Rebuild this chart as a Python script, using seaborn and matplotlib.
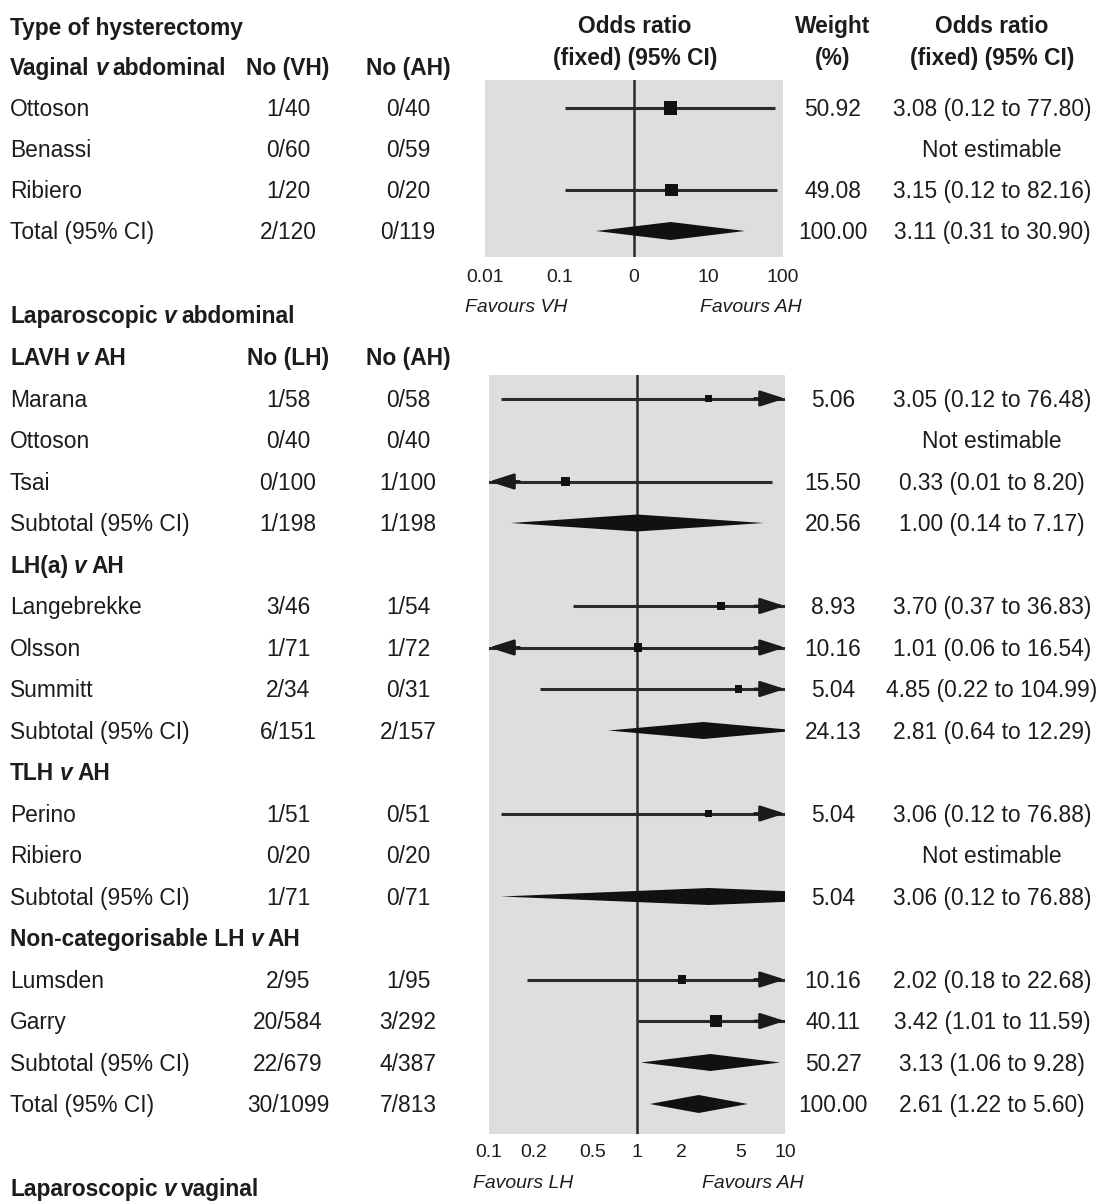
import numpy as np
import pandas as pd
import matplotlib
matplotlib.use("Agg")
import matplotlib.pyplot as plt
import seaborn as sns
from matplotlib import font_manager

# ---------------------------------------------------------------- data
# Vaginal v abdominal hysterectomy
vh_studies = ["Ottoson", "Benassi", "Ribiero", "Total (95% CI)"]
vh_kind = ["study", "study", "study", "total"]
vh_exp = ["1/40", "0/60", "1/20", "2/120"]
vh_ctrl = ["0/40", "0/59", "0/20", "0/119"]
vh_or = [3.08, np.nan, 3.15, 3.11]
vh_lo = [0.12, np.nan, 0.12, 0.31]
vh_hi = [77.80, np.nan, 82.16, 30.90]
vh_weight = [50.92, np.nan, 49.08, 100.00]
vh_ticks = [0.01, 0.1, 1, 10, 100]
vh_ticklabels = ["0.01", "0.1", "0", "10", "100"]

# Laparoscopic v abdominal hysterectomy
lh_studies = ["LAVH v AH", "Marana", "Ottoson", "Tsai", "Subtotal (95% CI)",
              "LH(a) v AH", "Langebrekke", "Olsson", "Summitt", "Subtotal (95% CI)",
              "TLH v AH", "Perino", "Ribiero", "Subtotal (95% CI)",
              "Non-categorisable LH v AH", "Lumsden", "Garry", "Subtotal (95% CI)",
              "Total (95% CI)"]
lh_kind = ["header", "study", "study", "study", "subtotal",
           "header", "study", "study", "study", "subtotal",
           "header", "study", "study", "subtotal",
           "header", "study", "study", "subtotal",
           "total"]
lh_exp = ["", "1/58", "0/40", "0/100", "1/198",
          "", "3/46", "1/71", "2/34", "6/151",
          "", "1/51", "0/20", "1/71",
          "", "2/95", "20/584", "22/679",
          "30/1099"]
lh_ctrl = ["", "0/58", "0/40", "1/100", "1/198",
           "", "1/54", "1/72", "0/31", "2/157",
           "", "0/51", "0/20", "0/71",
           "", "1/95", "3/292", "4/387",
           "7/813"]
lh_or = [np.nan, 3.05, np.nan, 0.33, 1.00,
         np.nan, 3.70, 1.01, 4.85, 2.81,
         np.nan, 3.06, np.nan, 3.06,
         np.nan, 2.02, 3.42, 3.13,
         2.61]
lh_lo = [np.nan, 0.12, np.nan, 0.01, 0.14,
         np.nan, 0.37, 0.06, 0.22, 0.64,
         np.nan, 0.12, np.nan, 0.12,
         np.nan, 0.18, 1.01, 1.06,
         1.22]
lh_hi = [np.nan, 76.48, np.nan, 8.20, 7.17,
         np.nan, 36.83, 16.54, 104.99, 12.29,
         np.nan, 76.88, np.nan, 76.88,
         np.nan, 22.68, 11.59, 9.28,
         5.60]
lh_weight = [np.nan, 5.06, np.nan, 15.50, 20.56,
             np.nan, 8.93, 10.16, 5.04, 24.13,
             np.nan, 5.04, np.nan, 5.04,
             np.nan, 10.16, 40.11, 50.27,
             100.00]
lh_ticks = [0.1, 0.2, 0.5, 1, 2, 5, 10]
lh_ticklabels = ["0.1", "0.2", "0.5", "1", "2", "5", "10"]

# ---------------------------------------------------------------- style
sns.set_theme(style="white")
names = {f.name for f in font_manager.fontManager.ttflist}
if "Liberation Sans Narrow" in names:
    plt.rcParams["font.family"] = ["Liberation Sans Narrow", "DejaVu Sans"]
    SCALE = 1.0
else:
    plt.rcParams["font.family"] = ["Liberation Sans", "DejaVu Sans"]
    SCALE = 0.82

W, H = 1097, 1201
INK = "#1c1c1c"
PANEL = "#dedede"
BODY = 20 * SCALE
SMALL = 17 * SCALE

fig = plt.figure(figsize=(W / 100, H / 100), dpi=100)
fig.patch.set_facecolor("white")
lay = fig.add_axes([0, 0, 1, 1])
lay.set_xlim(0, W)
lay.set_ylim(H, 0)
lay.axis("off")
renderer = fig.canvas.get_renderer()

COL_NAME, COL_EXP, COL_CTRL, COL_W, COL_OR = 10, 288, 408, 833, 992


def put(x, y, s, ha="left", size=BODY, weight="normal", style="normal", color=INK):
    em = size * 100 / 72
    return lay.text(x, y + 0.36 * em, s, ha=ha, va="baseline", fontsize=size,
                    fontweight=weight, fontstyle=style, color=color)


def bold_v(x, y, s, size=BODY):
    """Bold heading with the 'v' (versus) set in italics."""
    left, right = s.split(" v ")
    gap = 0.26 * size * 100 / 72
    t = put(x, y, left, weight="bold", size=size)
    x += t.get_window_extent(renderer).width + gap
    t = put(x, y, "v", weight="bold", style="italic", size=size)
    x += t.get_window_extent(renderer).width + gap * 0.8
    put(x, y, right, weight="bold", size=size)


def px_axes(x0, y0, x1, y1):
    return fig.add_axes([x0 / W, 1 - y1 / H, (x1 - x0) / W, (y1 - y0) / H])


def forest(ax, df, xlim, ylim, ticks, ticklabels, pad):
    ax.set_facecolor(PANEL)
    ax.set_xscale("log")
    for sp in ax.spines.values():
        sp.set_visible(False)
    ax.axvline(1, color="#2a2a2a", lw=1.8, zorder=2)

    studies = df[(df.kind == "study") & df.odds.notna()]
    ax.hlines(studies.y, studies.lo, studies.hi, color="#2a2a2a", lw=2.2, zorder=3)
    for _, r in studies.iterrows():
        for edge, off in ((xlim[1], -22), (xlim[0], 22)):
            beyond = r.hi > edge if off < 0 else r.lo < edge
            if beyond:
                ax.annotate("", xy=(edge, r.y), xytext=(off, 0), textcoords="offset points",
                            annotation_clip=False,
                            arrowprops=dict(arrowstyle="-|>,head_length=0.75,head_width=0.24",
                                            mutation_scale=20, color="#1a1a1a", lw=2.0,
                                            shrinkA=0, shrinkB=0), zorder=4)
    sns.scatterplot(data=studies, x="odds", y="y", size="weight", sizes=(20, 156),
                    size_norm=(0, 100), marker="s", color="#111111", edgecolor="none",
                    linewidth=0, legend=False, ax=ax, zorder=5)

    pooled = df[df.kind.isin(["subtotal", "total"]) & df.odds.notna()]
    for _, r in pooled.iterrows():
        h = 9 if r.kind == "total" else 8.5
        ax.fill([r.lo, r.odds, r.hi, r.odds], [r.y, r.y - h, r.y, r.y + h],
                color="#111111", lw=0, zorder=4)

    ax.set_xlim(*xlim)
    ax.set_ylim(*ylim)
    ax.set_xticks(ticks)
    ax.set_xticklabels(ticklabels)
    ax.minorticks_off()
    ax.set_yticks([])
    ax.tick_params(axis="x", length=0, pad=pad, labelsize=SMALL, colors=INK)
    ax.set_xlabel("")
    ax.set_ylabel("")


def table(df):
    for _, r in df.iterrows():
        if r.kind == "header":
            bold_v(COL_NAME, r.y, r.name_)
            continue
        put(COL_NAME, r.y, r.name_)
        put(COL_EXP, r.y, r.exp, ha="center")
        put(COL_CTRL, r.y, r.ctrl, ha="center")
        if np.isnan(r.odds):
            put(COL_OR, r.y, "Not estimable", ha="center")
        else:
            put(COL_W, r.y, f"{r.weight:.2f}", ha="center")
            put(COL_OR, r.y, f"{r.odds:.2f} ({r.lo:.2f} to {r.hi:.2f})", ha="center")


# ---------------------------------------------------------------- top block
put(COL_NAME, 27, "Type of hysterectomy", weight="bold")
bold_v(COL_NAME, 67, "Vaginal v abdominal")
put(COL_EXP, 67, "No (VH)", ha="center", weight="bold")
put(COL_CTRL, 67, "No (AH)", ha="center", weight="bold")
for xc in (635, COL_OR):
    put(xc, 25, "Odds ratio", ha="center", weight="bold")
    put(xc, 57, "(fixed) (95% CI)", ha="center", weight="bold")
put(COL_W, 25, "Weight", ha="center", weight="bold")
put(COL_W, 57, "(%)", ha="center", weight="bold")

vh = pd.DataFrame({"name_": vh_studies, "kind": vh_kind, "exp": vh_exp, "ctrl": vh_ctrl,
                   "odds": vh_or, "lo": vh_lo, "hi": vh_hi, "weight": vh_weight})
vh["y"] = 108 + 41 * np.arange(len(vh))
table(vh)
ax1 = px_axes(485, 80, 783, 257)
forest(ax1, vh, (0.01, 100), (257, 80), vh_ticks, vh_ticklabels, pad=8.5)
put(465, 305, "Favours VH", size=SMALL, style="italic")
put(802, 305, "Favours AH", ha="right", size=SMALL, style="italic")

# ---------------------------------------------------------------- lower block
bold_v(COL_NAME, 315, "Laparoscopic v abdominal")
lh = pd.DataFrame({"name_": lh_studies, "kind": lh_kind, "exp": lh_exp, "ctrl": lh_ctrl,
                   "odds": lh_or, "lo": lh_lo, "hi": lh_hi, "weight": lh_weight})
lh["y"] = 357 + 41.5 * np.arange(len(lh))
table(lh)
put(COL_EXP, 357, "No (LH)", ha="center", weight="bold")
put(COL_CTRL, 357, "No (AH)", ha="center", weight="bold")
ax2 = px_axes(489, 375, 785, 1134)
forest(ax2, lh, (0.1, 10), (1134, 375), lh_ticks, lh_ticklabels, pad=7)
put(473, 1181, "Favours LH", size=SMALL, style="italic")
put(804, 1181, "Favours AH", ha="right", size=SMALL, style="italic")

bold_v(COL_NAME, 1188, "Laparoscopic v vaginal")

fig.savefig("out.png", dpi=100, facecolor="white")
